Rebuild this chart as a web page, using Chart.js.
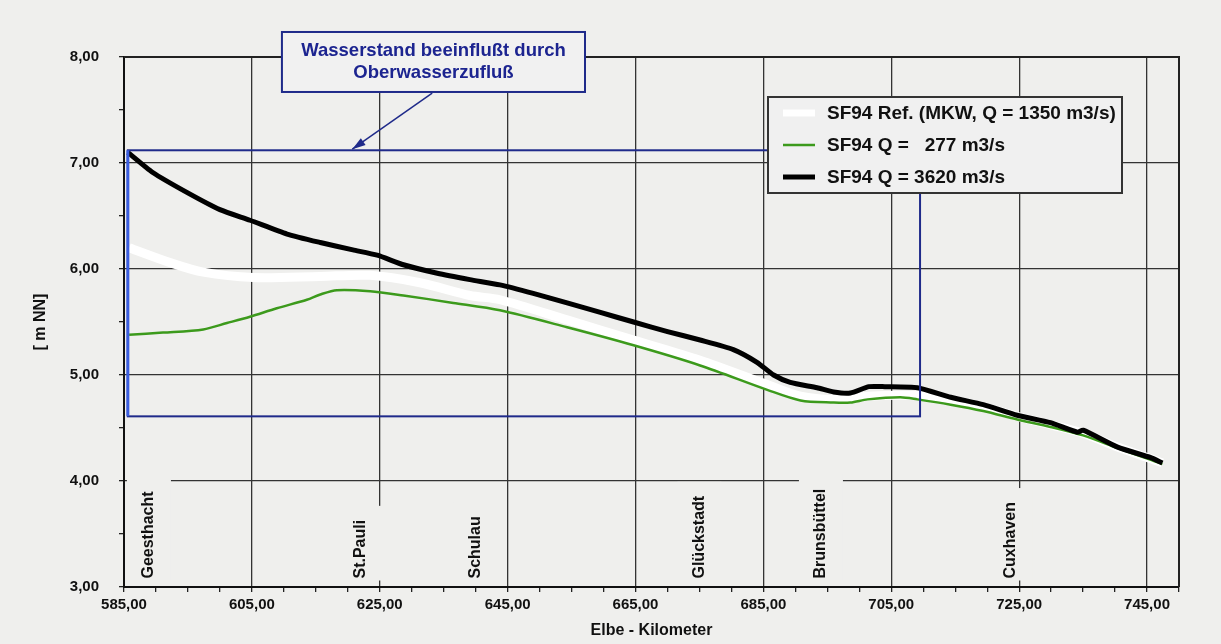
<!DOCTYPE html>
<html>
<head>
<meta charset="utf-8">
<script src="https://cdn.jsdelivr.net/npm/chart.js@4.4.1/dist/chart.umd.min.js"></script>
<style>
  html, body { margin: 0; padding: 0; background: #efefed; }
  #wrap { width: 1221px; height: 644px; }
</style>
</head>
<body>
<div id="wrap"><canvas id="elbeChart"></canvas></div>
<script>
// Elbe water levels (m NN) over Elbe-Kilometer
const blackKm = [585.6, 589.5, 594.9, 600.0, 604.7, 610.5, 615.7, 620.8, 624.6, 628.7, 634.0, 639.1, 643.8, 649.0, 654.3, 659.5, 664.7, 670.0, 675.1, 680.3, 684.0, 686.6, 689.2, 693.4, 696.0, 698.6, 701.5, 704.0, 709.1, 714.3, 719.4, 724.7, 729.9, 734.1, 735.0, 740.4, 745.6, 747.4];
const blackLevel = [7.10, 6.91, 6.72, 6.56, 6.46, 6.33, 6.25, 6.18, 6.13, 6.04, 5.96, 5.90, 5.85, 5.77, 5.68, 5.59, 5.50, 5.41, 5.33, 5.24, 5.12, 5.00, 4.93, 4.88, 4.84, 4.83, 4.89, 4.89, 4.88, 4.79, 4.72, 4.62, 4.55, 4.46, 4.48, 4.32, 4.22, 4.17];

const whiteKm = [585.8, 592.2, 597.4, 605.2, 615.7, 623.5, 631.3, 639.1, 643.8, 654.3, 664.7, 675.1, 685.6, 690.8, 696.0, 701.3, 706.4, 711.6, 714.3, 719.4, 724.7, 729.9, 735.0, 740.4, 745.6, 747.4];
const whiteLevel = [6.20, 6.06, 5.97, 5.92, 5.93, 5.94, 5.87, 5.75, 5.71, 5.52, 5.33, 5.14, 4.91, 4.80, 4.77, 4.80, 4.81, 4.80, 4.77, 4.70, 4.61, 4.53, 4.45, 4.32, 4.21, 4.17];

const greenKm = [585.8, 591.1, 597.4, 601.1, 604.7, 608.9, 613.6, 615.7, 618.3, 623.5, 628.7, 636.5, 643.8, 654.3, 664.7, 675.1, 685.6, 690.8, 696.0, 698.6, 701.3, 706.4, 709.1, 714.3, 719.4, 724.7, 729.9, 735.0, 740.4, 745.6, 747.4];
const greenLevel = [5.38, 5.40, 5.43, 5.49, 5.55, 5.63, 5.71, 5.76, 5.80, 5.79, 5.75, 5.68, 5.61, 5.45, 5.28, 5.09, 4.86, 4.76, 4.74, 4.74, 4.77, 4.79, 4.77, 4.72, 4.66, 4.58, 4.51, 4.43, 4.31, 4.20, 4.16];

const seriesLabels = ['SF94 Ref. (MKW, Q = 1350 m3/s)', 'SF94 Q =   277 m3/s', 'SF94 Q = 3620 m3/s'];

const placeNames = ['Geesthacht', 'St.Pauli', 'Schulau', 'Glückstadt', 'Brunsbüttel', 'Cuxhaven'];
const placeKm = [588.9, 622.0, 640.0, 675.0, 694.0, 723.7];

const noteLines = ['Wasserstand beeinflußt durch', 'Oberwasserzufluß'];

const BG = '#efefed';
const FONT = '"Liberation Sans", Arial, sans-serif';

function toPoints(xs, ys) {
  return xs.map((x, i) => ({ x: x, y: ys[i] }));
}

function comma(v) {
  return v.toFixed(2).replace('.', ',');
}

const isMajorX = v => Math.abs((v - 585) % 20) < 0.01;
const isMajorY = v => Math.abs(v - Math.round(v)) < 0.01;

const decorPlugin = {
  id: 'decor',
  beforeDraw(chart) {
    const ctx = chart.ctx;
    ctx.save();
    ctx.fillStyle = BG;
    ctx.fillRect(0, 0, chart.width, chart.height);
    ctx.restore();
  },
  beforeDatasetsDraw(chart) {
    const ctx = chart.ctx;
    const a = chart.chartArea;
    const xs = chart.scales.x, ys = chart.scales.y;
    ctx.save();
    // frame (top and right)
    ctx.strokeStyle = '#222';
    ctx.lineWidth = 2;
    ctx.beginPath();
    ctx.moveTo(a.left, a.top);
    ctx.lineTo(a.right, a.top);
    ctx.lineTo(a.right, a.bottom);
    ctx.stroke();

    // place names, rotated, on cleared boxes
    ctx.font = 'bold 16px ' + FONT;
    const base = ys.getPixelForValue(3.08);
    placeNames.forEach((name, i) => {
      const x = xs.getPixelForValue(placeKm[i]);
      const w = ctx.measureText(name).width;
      ctx.fillStyle = BG;
      ctx.fillRect(x - 22, base - w - 14, 44, w + 16);
      ctx.save();
      ctx.translate(x, base);
      ctx.rotate(-Math.PI / 2);
      ctx.fillStyle = '#111';
      ctx.textAlign = 'left';
      ctx.textBaseline = 'middle';
      ctx.fillText(name, 0, 0);
      ctx.restore();
    });
    ctx.restore();
  },
  afterDatasetsDraw(chart) {
    const ctx = chart.ctx;
    const a = chart.chartArea;
    const xs = chart.scales.x, ys = chart.scales.y;
    const px = v => xs.getPixelForValue(v);
    const py = v => ys.getPixelForValue(v);
    ctx.save();

    // influence region
    const rl = px(585.6), rr = px(709.5), rt = py(7.12), rb = py(4.61);
    ctx.strokeStyle = '#1f2a8a';
    ctx.lineWidth = 2;
    ctx.strokeRect(rl, rt, rr - rl, rb - rt);
    ctx.strokeStyle = '#3b5ee0';
    ctx.lineWidth = 3;
    ctx.beginPath();
    ctx.moveTo(rl, rt);
    ctx.lineTo(rl, rb);
    ctx.stroke();

    // arrow
    const ax1 = px(633.2), ay1 = py(7.66), ax2 = px(620.7), ay2 = py(7.13);
    ctx.strokeStyle = '#1f2a8a';
    ctx.fillStyle = '#1f2a8a';
    ctx.lineWidth = 1.5;
    ctx.beginPath();
    ctx.moveTo(ax1, ay1);
    ctx.lineTo(ax2, ay2);
    ctx.stroke();
    const ang = Math.atan2(ay2 - ay1, ax2 - ax1);
    ctx.beginPath();
    ctx.moveTo(ax2, ay2);
    ctx.lineTo(ax2 - 14 * Math.cos(ang - 0.3), ay2 - 14 * Math.sin(ang - 0.3));
    ctx.lineTo(ax2 - 14 * Math.cos(ang + 0.3), ay2 - 14 * Math.sin(ang + 0.3));
    ctx.closePath();
    ctx.fill();

    // note box
    const bl = px(609.7), br = px(657.1), bt = py(8.236), bb = py(7.67);
    ctx.fillStyle = '#f1f1f1';
    ctx.fillRect(bl, bt, br - bl, bb - bt);
    ctx.strokeStyle = '#1f2a8a';
    ctx.lineWidth = 2;
    ctx.strokeRect(bl, bt, br - bl, bb - bt);
    ctx.fillStyle = '#1c2490';
    ctx.font = 'bold 18.5px ' + FONT;
    ctx.textAlign = 'center';
    ctx.textBaseline = 'middle';
    ctx.fillText(noteLines[0], (bl + br) / 2, bt + 19);
    ctx.fillText(noteLines[1], (bl + br) / 2, bt + 41);

    // legend
    const lx = a.right - 411, ly = a.top + 40, lw = 354, lh = 96;
    ctx.fillStyle = '#f0f0f0';
    ctx.fillRect(lx, ly, lw, lh);
    ctx.strokeStyle = '#333';
    ctx.lineWidth = 2;
    ctx.strokeRect(lx, ly, lw, lh);
    ctx.font = 'bold 19px ' + FONT;
    ctx.textAlign = 'left';
    chart.data.datasets.forEach((ds, i) => {
      const yy = ly + 16 + i * 32;
      ctx.strokeStyle = ds.borderColor;
      ctx.lineWidth = Math.min(ds.borderWidth, 7);
      ctx.beginPath();
      ctx.moveTo(lx + 15, yy);
      ctx.lineTo(lx + 47, yy);
      ctx.stroke();
      ctx.fillStyle = '#111';
      ctx.fillText(ds.label, lx + 59, yy + 1);
    });
    ctx.restore();
  }
};

const ctx = document.getElementById('elbeChart').getContext('2d');
new Chart(ctx, {
  type: 'line',
  data: {
    datasets: [{
      label: seriesLabels[0],
      data: toPoints(whiteKm, whiteLevel),
      borderColor: '#ffffff',
      borderWidth: 9,
      pointRadius: 0,
      tension: 0.3,
      order: 3
    }, {
      label: seriesLabels[1],
      data: toPoints(greenKm, greenLevel),
      borderColor: '#3c9a1c',
      borderWidth: 2.5,
      pointRadius: 0,
      tension: 0.3,
      order: 2
    }, {
      label: seriesLabels[2],
      data: toPoints(blackKm, blackLevel),
      borderColor: '#000000',
      borderWidth: 5,
      pointRadius: 0,
      tension: 0.2,
      order: 1
    }]
  },
  options: {
    responsive: true,
    maintainAspectRatio: false,
    animation: false,
    layout: { padding: { top: 57, right: 42, left: 0, bottom: 0 } },
    plugins: {
      legend: { display: false },
      tooltip: { enabled: false }
    },
    scales: {
      x: {
        type: 'linear',
        min: 585,
        max: 750,
        afterFit: s => { s.height = 57; },
        ticks: {
          stepSize: 5,
          maxRotation: 0,
          autoSkip: false,
          padding: 4,
          color: '#111',
          font: { family: FONT, size: 15, weight: 'bold' },
          callback: v => isMajorX(v) && v < 750 ? comma(v) : ''
        },
        grid: {
          color: c => (c.tick && isMajorX(c.tick.value) && c.tick.value > 585) ? '#333' : 'rgba(0,0,0,0)',
          tickColor: '#222',
          tickLength: 5,
          lineWidth: 1.3
        },
        border: { color: '#111', width: 2 },
        title: {
          display: true,
          text: 'Elbe - Kilometer',
          color: '#111',
          font: { family: FONT, size: 16, weight: 'bold' },
          padding: { top: 0, bottom: 4 }
        }
      },
      y: {
        min: 3,
        max: 8,
        afterFit: s => { s.width = 124; },
        ticks: {
          stepSize: 0.5,
          autoSkip: false,
          padding: 20,
          color: '#111',
          font: { family: FONT, size: 15, weight: 'bold' },
          callback: v => isMajorY(v) ? comma(v) : ''
        },
        grid: {
          color: c => (c.tick && isMajorY(c.tick.value) && c.tick.value > 3) ? '#333' : 'rgba(0,0,0,0)',
          tickColor: '#222',
          tickLength: 5,
          lineWidth: 1.3
        },
        border: { color: '#111', width: 2 },
        title: {
          display: true,
          text: '[ m NN]',
          color: '#111',
          font: { family: FONT, size: 16, weight: 'bold' },
          padding: { top: 31, bottom: 0 }
        }
      }
    }
  },
  plugins: [decorPlugin]
});
</script>
</body>
</html>
